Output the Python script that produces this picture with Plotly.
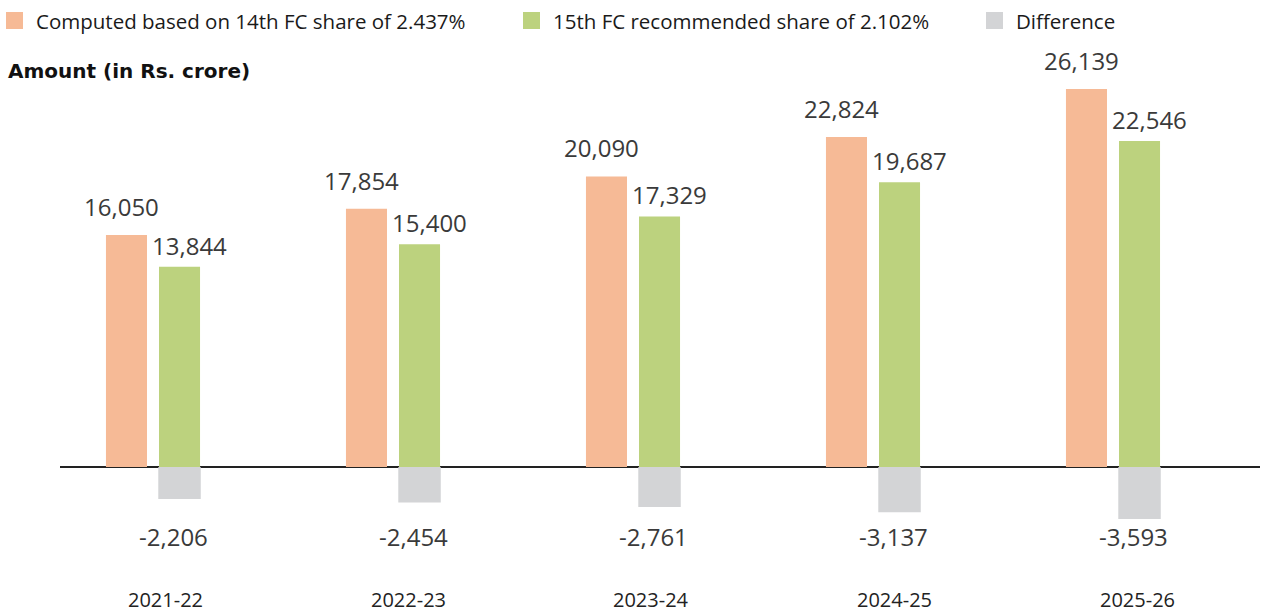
import plotly.graph_objects as go

# ---- data ----
years = ["2021-22", "2022-23", "2023-24", "2024-25", "2025-26"]
share_14th = [16050, 17854, 20090, 22824, 26139]
share_15th = [13844, 15400, 17329, 19687, 22546]
difference = [-2206, -2454, -2761, -3137, -3593]
series_names = [
    "Computed based on 14th FC share of 2.437%",
    "15th FC recommended share of 2.102%",
    "Difference",
]
y_title = "Amount (in Rs. crore)"

# ---- style ----
ORANGE = "#F6BA96"
GREEN = "#BCD27E"
GREY = "#D3D4D6"
TEXT = "#3A3A3A"
FONT = "Open Sans"

W, H = 1261, 612
ML, MR, MT, MB = 60, 1, 50, 60
BAR_W = 0.171
OFF_A = -0.196
OFF_B = 0.025

idx = list(range(len(years)))

fig = go.Figure()
fig.add_trace(go.Bar(x=idx, y=share_14th, width=BAR_W, offset=OFF_A,
                     marker=dict(color=ORANGE, line=dict(width=0)),
                     name=series_names[0], showlegend=False,
                     hovertemplate="%{y:,}<extra>" + series_names[0] + "</extra>"))
fig.add_trace(go.Bar(x=idx, y=share_15th, width=BAR_W, offset=OFF_B,
                     marker=dict(color=GREEN, line=dict(width=0)),
                     name=series_names[1], showlegend=False,
                     hovertemplate="%{y:,}<extra>" + series_names[1] + "</extra>"))
fig.add_trace(go.Bar(x=idx, y=difference, width=BAR_W + 0.006, offset=OFF_B - 0.003,
                     marker=dict(color=GREY, line=dict(width=0)),
                     name=series_names[2], showlegend=False,
                     hovertemplate="%{y:,}<extra>" + series_names[2] + "</extra>"))

ann = []
# value labels above bars
for i, v in zip(idx, share_14th):
    ann.append(dict(x=i + OFF_A + BAR_W / 2, y=v, xref="x", yref="y", text=f"{v:,}",
                    showarrow=False, yanchor="bottom", yshift=10, xshift=-5,
                    font=dict(family=FONT, size=24, color=TEXT)))
for i, v in zip(idx, share_15th):
    ann.append(dict(x=i + OFF_B + BAR_W / 2, y=v, xref="x", yref="y", text=f"{v:,}",
                    showarrow=False, yanchor="bottom", yshift=3, xshift=10,
                    font=dict(family=FONT, size=24, color=TEXT)))
# difference labels at fixed height below the axis
for i, v in zip(idx, difference):
    ann.append(dict(x=i + OFF_B + BAR_W / 2, y=0.03, xref="x", yref="paper", text=f"{v:,}",
                    showarrow=False, yanchor="middle", xshift=-6,
                    font=dict(family=FONT, size=24, color=TEXT)))
# category labels
for i, c in zip(idx, years):
    ann.append(dict(x=i, y=-0.094, xref="x", yref="paper", text=c,
                    showarrow=False, yanchor="middle", xshift=12 + 3 * i,
                    font=dict(family=FONT, size=20, color="#222222")))
# axis title
ann.append(dict(x=6, y=71, xref="paper", yref="paper", text=f"<b>{y_title}</b>",
                showarrow=False, xanchor="left", yanchor="middle",
                font=dict(family="DejaVu Sans", size=20, color="#111111")))

# legend (manual, to match reference placement)
legend_x = [6, 523, 986]
legend_colors = [ORANGE, GREEN, GREY]
shapes = []
for lx, col, name in zip(legend_x, legend_colors, series_names):
    shapes.append(dict(type="rect", xref="paper", yref="paper",
                       x0=lx, x1=lx + 17, y0=12, y1=29,
                       fillcolor=col, line=dict(width=0)))
    ann.append(dict(x=lx + 28, y=21, xref="paper", yref="paper", text=name,
                    showarrow=False, xanchor="left", yanchor="middle",
                    font=dict(family=FONT, size=20.5, color="#1A1A1A")))

# convert pixel-specified paper items to paper fractions
pw = W - ML - MR
ph = H - MT - MB
def px_x(p):
    return (p - ML) / pw
def px_y(p):
    return (H - MB - p) / ph
for a in ann:
    if a["xref"] == "paper":
        a["x"] = px_x(a["x"])
    if a["yref"] == "paper" and a.get("xref") == "paper":
        a["y"] = px_y(a["y"])
for s in shapes:
    s["x0"], s["x1"] = px_x(s["x0"]), px_x(s["x1"])
    s["y0"], s["y1"] = px_y(s["y0"]), px_y(s["y1"])

fig.update_layout(
    width=W, height=H,
    margin=dict(l=ML, r=MR, t=MT, b=MB, pad=0),
    paper_bgcolor="white", plot_bgcolor="white",
    barmode="overlay",
    annotations=ann, shapes=shapes,
    showlegend=False,
    font=dict(family=FONT, color=TEXT),
)
fig.update_xaxes(range=[-0.3875, 4.6125], showticklabels=False, showgrid=False,
                 zeroline=False, showline=False, ticks="")
fig.update_yaxes(range=[-5878, 28836], showticklabels=False, showgrid=False,
                 zeroline=True, zerolinecolor="#222222", zerolinewidth=1.5,
                 showline=False, ticks="", layer="above traces")

fig.write_html("out.html", config={"displayModeBar": False},
               post_script="document.body.style.margin='0';")
